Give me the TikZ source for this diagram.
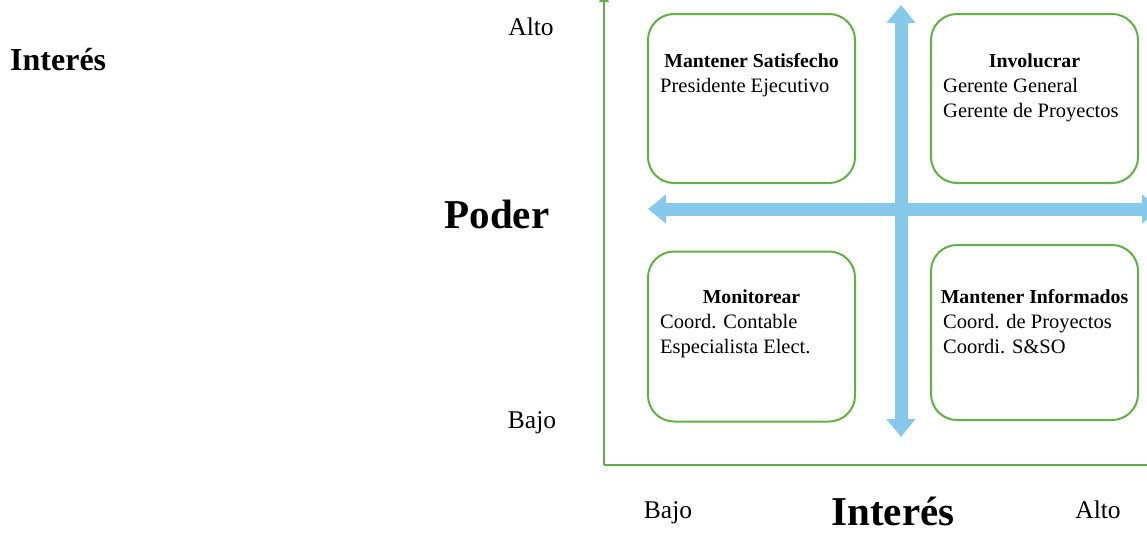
\documentclass[tikz,border=0pt]{standalone}
\usepackage{fontspec}
\setmainfont{Liberation Serif}
\usetikzlibrary{arrows.meta}
\definecolor{axisgreen}{RGB}{96,178,66}
\definecolor{arrowblue}{RGB}{135,201,234}
\begin{document}
\begin{tikzpicture}[x=1pt,y=-1pt,
  quad/.style={draw=axisgreen, line width=2pt, rounded corners=26pt,
    minimum width=207pt, inner sep=0pt},
  ttl/.style={font=\fontsize{19.8}{25}\selectfont\bfseries, anchor=base, inner sep=0pt},
  item/.style={font=\fontsize{20.5}{25}\selectfont, anchor=base west, inner sep=0pt},
  lvl/.style={font=\fontsize{25.5}{30}\selectfont, anchor=base, inner sep=0pt},
  axname/.style={font=\fontsize{41}{48}\selectfont\bfseries, anchor=base, inner sep=0pt},
  axisline/.style={draw=axisgreen, line width=2.8pt},
  bluearrow/.style={draw=arrowblue, line width=13pt,
    {Triangle[width=28pt,length=18pt]}-{Triangle[width=28pt,length=18pt]}}]
\useasboundingbox (0,0) rectangle (1147,533);

% axes of the grid
\coordinate (origin) at (604,465);
\coordinate (ytop) at (604,-8);
\coordinate (xend) at (1160,465);
\draw[axisline, -{Triangle[width=9pt,length=10pt]}] (origin) -- (ytop);
\draw[axisline] (origin) -- (xend);

% quadrant dividers
\coordinate (vt) at (901,5);
\coordinate (vb) at (901,437);
\coordinate (hl) at (648,209);
\coordinate (hr) at (1160,209);
\draw[bluearrow] (vb) -- (vt);
\draw[bluearrow] (hl) -- (hr);

% quadrant boxes
\node[quad, minimum height=169pt] (tl) at (751.5,98.5) {};
\node[quad, minimum height=169pt] (tr) at (1034.5,98.5) {};
\node[quad, minimum height=170pt] (bl) at (751.5,336.5) {};
\node[quad, minimum height=175pt] (br) at (1034.5,332.5) {};

% quadrant texts
\node[ttl] (tlT) at (751.5,67) {Mantener Satisfecho};
\node[item] (tl1) at (660,92) {Presidente Ejecutivo};

\node[ttl] (trT) at (1034.5,67) {Involucrar};
\node[item] (tr1) at (943,92) {Gerente General};
\node[item] (tr2) at (943,117) {Gerente de Proyectos};

\node[ttl] (blT) at (751.5,303) {Monitorear};
\node[item] (bl1) at (660,328) {Coord. Contable};
\node[item] (bl2) at (660,353) {Especialista Elect.};

\node[ttl] (brT) at (1034.5,303) {Mantener Informados};
\node[item] (br1) at (943,328) {Coord. de Proyectos};
\node[item] (br2) at (943,353) {Coordi. S\&SO};

% axis labels
\node[lvl] (altoP) at (531,35) {Alto};
\node[lvl] (bajoP) at (532,428) {Bajo};
\node[axname] (poder) at (497,228) {Poder};
\node[lvl] (bajoI) at (668,518) {Bajo};
\node[lvl] (altoI) at (1098,518) {Alto};
\node[axname] (interes) at (893,525) {Interés};
\node[font=\fontsize{32}{36}\selectfont\bfseries, anchor=base west, inner sep=0pt] (interesTop) at (10,70) {Interés};
\end{tikzpicture}
\end{document}
